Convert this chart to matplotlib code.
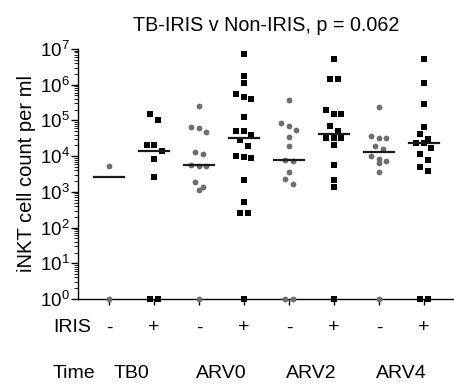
import numpy as np
import matplotlib.pyplot as plt

plt.rcParams['font.family'] = ['Liberation Sans', 'DejaVu Sans']
plt.rcParams['mathtext.fontset'] = 'custom'
plt.rcParams['mathtext.rm'] = 'Liberation Sans'

# iNKT counts per ml (zeros drawn on the 10^0 baseline)
tb0_neg = [5300, 1]
tb0_pos = [155000, 105000, 20500, 20500, 14000, 8200, 2600, 1, 1]
arv0_neg = [257000, 66000, 63000, 47000, 12900, 11800, 5800, 5300, 5200,
            1940, 1400, 1130, 1]
arv0_pos = [7.4e6, 1.8e6, 1.14e6, 5.5e5, 4.6e5, 4.0e5, 1.27e5, 49000, 49000,
            38000, 28000, 18700, 10000, 9500, 9100, 2200, 530, 260, 260, 1]
arv2_neg = [370000, 83000, 71000, 55000, 35000, 18700, 7800, 7500, 3700,
            2350, 1660, 1, 1]
arv2_pos = [5.3e6, 1.43e6, 1.43e6, 2.0e5, 1.55e5, 1.55e5, 71000, 51000,
            32000, 32000, 32000, 20500, 5500, 2200, 1350, 1]
arv4_neg = [240000, 35500, 32000, 32000, 18700, 15500, 9800, 8200, 7500,
            6400, 3500, 1]
arv4_pos = [5.3e6, 1.14e6, 2.9e5, 66000, 43000, 31000, 23500, 23500, 17000,
            11300, 7800, 5000, 3800, 1, 1]

series = [tb0_neg, tb0_pos, arv0_neg, arv0_pos,
          arv2_neg, arv2_pos, arv4_neg, arv4_pos]
iris = ['-', '+', '-', '+', '-', '+', '-', '+']
times = ['TB0', 'ARV0', 'ARV2', 'ARV4']


def spread(ax, x0, vals, h=6.5, d=7.5):
    """prism-like scatter: points within h px vertically share a row, centred"""
    vals = np.asarray(vals, dtype=float)
    order = np.argsort(-vals)
    pts = ax.transData.transform(np.column_stack([np.full(len(vals), x0), vals]))
    xpix = pts[:, 0].copy()
    rows, cur = [], [order[0]]
    for k in order[1:]:
        if abs(pts[k, 1] - pts[cur[0], 1]) <= h:
            cur.append(k)
        else:
            rows.append(cur)
            cur = [k]
    rows.append(cur)
    for row in rows:
        n = len(row)
        for j, k in enumerate(row):
            xpix[k] = pts[k, 0] + (j - (n - 1) / 2) * d
    back = ax.transData.inverted().transform(np.column_stack([xpix, pts[:, 1]]))
    return back[:, 0]


fig = plt.figure(figsize=(4.54, 3.92), dpi=100)
ax = fig.add_axes([78 / 454, 1 - 299 / 392, (454 - 78) / 454, 250 / 392])
ax.set_yscale('log')
ax.set_ylim(1, 1e7)
ax.set_xlim(0.31, 8.67)

pos = np.arange(1, 9)
for i, vals in enumerate(series):
    xs = spread(ax, pos[i], vals)
    if iris[i] == '-':
        ax.plot(xs, vals, 'o', color='#6e6e6e', ms=4.2, mew=0, clip_on=False, zorder=3)
    else:
        ax.plot(xs, vals, 's', color='black', ms=5.0, mew=0, clip_on=False, zorder=3)
    med = np.median(vals)
    ax.plot([pos[i] - 0.34, pos[i] + 0.34], [med, med], color='#1a1a1a', lw=1.6, zorder=4)

ax.spines['top'].set_visible(False)
ax.spines['right'].set_visible(False)
ax.spines['left'].set_linewidth(1.0)
ax.spines['bottom'].set_linewidth(1.0)
ax.set_xticks(pos)
ax.set_xticklabels([])
ax.tick_params(axis='x', length=4, width=1)
ax.set_yticks([10.0 ** k for k in range(8)])
ax.set_yticklabels([r'$\mathregular{10^{%d}}$' % k for k in range(8)], fontsize=13.5)
ax.tick_params(axis='y', which='major', length=5, width=1, pad=1)
ax.tick_params(axis='y', which='minor', length=3, width=0.6)
ax.set_ylabel('iNKT cell count per ml', fontsize=14.5, labelpad=3)

ax.set_title('TB-IRIS v Non-IRIS, p = 0.062', fontsize=14.2, pad=13)

# IRIS / Time rows under the axis
fig.text(53 / 454, 1 - 328 / 392, 'IRIS', fontsize=14, va='center', ha='left')
fig.text(53 / 454, 1 - 374 / 392, 'Time', fontsize=14, va='center', ha='left')
xt = ax.get_xaxis_transform()
for i, s in enumerate(iris):
    ax.text(pos[i], -0.116, s, transform=xt, ha='center', va='center', fontsize=14)
for j, t in enumerate(times):
    ax.text(pos[2 * j] + 0.5, -0.30, t, transform=xt, ha='center', va='center', fontsize=14)

fig.savefig('out.png', dpi=100)
